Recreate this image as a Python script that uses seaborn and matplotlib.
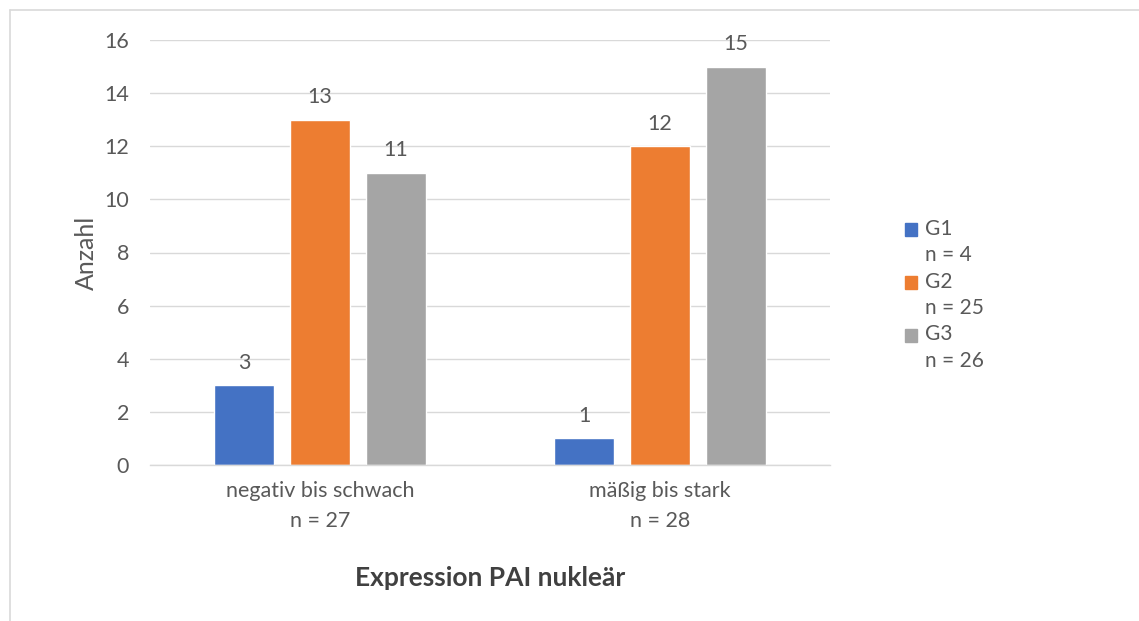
import matplotlib
matplotlib.use("Agg")
import matplotlib.pyplot as plt
import seaborn as sns
import pandas as pd
from matplotlib.lines import Line2D
from matplotlib.patches import Rectangle
from matplotlib.legend_handler import HandlerPatch

categories = ["negativ bis schwach\nn = 27", "mäßig bis stark\nn = 28"]
groups = ["G1", "G2", "G3"]
group_labels = ["G1\nn = 4", "G2\nn = 25", "G3\nn = 26"]
g1 = [3, 1]
g2 = [13, 12]
g3 = [11, 15]
colors = ["#4472C4", "#ED7D31", "#A5A5A5"]
yticks = [0, 2, 4, 6, 8, 10, 12, 14, 16]

rows = []
for g, vals in zip(groups, [g1, g2, g3]):
    for c, v in zip(categories, vals):
        rows.append({"Kategorie": c, "Gruppe": g, "Anzahl": v})
df = pd.DataFrame(rows)

sns.set_theme(style="white")
plt.rcParams["font.family"] = ["Lato", "DejaVu Sans"]
txt = "#595959"

fig = plt.figure(figsize=(11.39, 6.21), dpi=100)
ax = fig.add_axes([150 / 1139, 1 - 465 / 621, 680 / 1139, 425 / 621])

sns.barplot(data=df, x="Kategorie", y="Anzahl", hue="Gruppe", order=categories,
            hue_order=groups, palette=colors, width=0.67, gap=0.21,
            saturation=1, ax=ax, legend=False)

for cont in ax.containers:
    ax.bar_label(cont, padding=9, fontsize=15.5, color=txt)

ax.set_xlim(-0.5, 1.5)
ax.set_ylim(0, 16)
ax.set_yticks(yticks)
ax.yaxis.grid(True, color="#d9d9d9", linewidth=1)
ax.set_axisbelow(True)
for s in ["top", "right", "left"]:
    ax.spines[s].set_visible(False)
ax.spines["bottom"].set_color("#d9d9d9")
ax.spines["bottom"].set_linewidth(1)
ax.tick_params(axis="both", length=0, labelsize=15.5, labelcolor=txt)
ax.tick_params(axis="y", pad=15)
ax.tick_params(axis="x", pad=11.5)
for lbl in ax.get_xticklabels():
    lbl.set_linespacing(1.63)

ax.set_ylabel("Anzahl", fontsize=18, color=txt, labelpad=4.5)
ax.set_xlabel("Expression PAI nukleär", fontsize=19, fontweight="bold",
              color="#404040", labelpad=25)


def top_square(legend, orig_handle, xdescent, ydescent, width, height, fontsize):
    return Rectangle((-xdescent, -ydescent + 0.62 * fontsize), width, height)


handles = [Rectangle((0, 0), 1, 1, color=c) for c in colors]
leg = fig.legend(handles, group_labels, loc="upper left",
                 bbox_to_anchor=(886 / 1139, 1 - 200 / 621), frameon=False,
                 fontsize=15, labelcolor=txt, handlelength=0.6, handleheight=0.6,
                 handletextpad=0.35, labelspacing=0.31,
                 handler_map={Rectangle: HandlerPatch(patch_func=top_square)})
for t in leg.get_texts():
    t.set_linespacing(1.4)

fig.add_artist(Line2D([10 / 1139, 10 / 1139], [0, 1 - 10 / 621], color="#d9d9d9",
                      linewidth=1.2, transform=fig.transFigure))
fig.add_artist(Line2D([10 / 1139, 1], [1 - 10 / 621, 1 - 10 / 621], color="#d9d9d9",
                      linewidth=1.2, transform=fig.transFigure))

fig.savefig("out.png", dpi=100)
